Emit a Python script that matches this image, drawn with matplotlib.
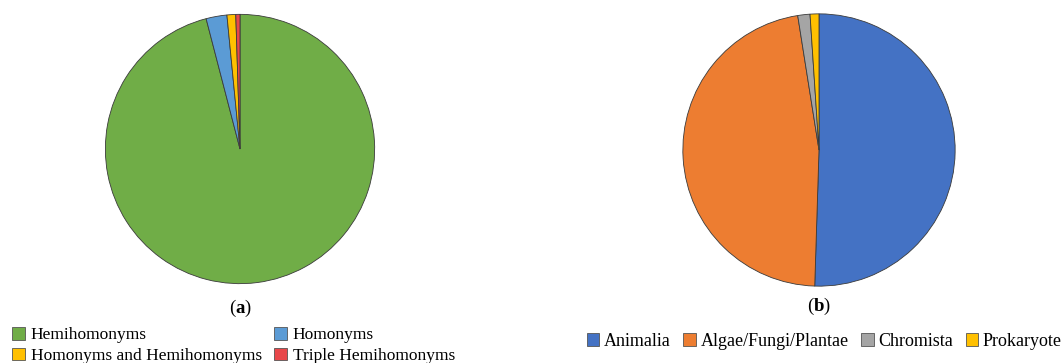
import matplotlib
matplotlib.use("Agg")
import matplotlib.pyplot as plt
from matplotlib.patches import Patch

# panel (a): type of homonymy, share in %
labels_a = ["Hemihomonyms", "Homonyms", "Homonyms and Hemihomonyms", "Triple Hemihomonyms"]
values_a = [96.0, 2.5, 1.05, 0.5]
colors_a = ["#70AD47", "#5B9BD5", "#FFC000", "#E8474A"]

# panel (b): kingdom, share in %
labels_b = ["Animalia", "Algae/Fungi/Plantae", "Chromista", "Prokaryote"]
values_b = [50.5, 47.0, 1.45, 1.05]
colors_b = ["#4472C4", "#ED7D31", "#A5A5A5", "#FFC000"]

W, H = 1064, 363
plt.rcParams["font.family"] = ["Liberation Serif", "DejaVu Serif"]
plt.rcParams["mathtext.fontset"] = "custom"
plt.rcParams["mathtext.rm"] = "Liberation Serif"
plt.rcParams["mathtext.bf"] = "Liberation Serif:bold"

fig = plt.figure(figsize=(W / 100, H / 100), dpi=100)

def pie_axes(cx, cy, r):
    # pixel centre/radius (top-left origin) -> figure axes
    return fig.add_axes([(cx - r) / W, (H - cy - r) / H, 2 * r / W, 2 * r / H])

def pie(ax, vals, cols):
    ax.pie(vals, colors=cols, startangle=90, counterclock=False, radius=1,
           wedgeprops=dict(edgecolor="#3a3a3a", linewidth=0.6))
    ax.set_xlim(-1.01, 1.01)
    ax.set_ylim(-1.01, 1.01)
    ax.set_aspect("equal")
    ax.axis("off")

ax1 = pie_axes(240, 149, 136)
pie(ax1, values_a, colors_a)
ax2 = pie_axes(819, 150, 137.5)
pie(ax2, values_b, colors_b)

fig.text(240 / W, 1 - 308 / H, r"($\mathbf{a}$)", ha="center", va="center", fontsize=13.5)
fig.text(819 / W, 1 - 306 / H, r"($\mathbf{b}$)", ha="center", va="center", fontsize=13.5)

# legend (a) is filled row by row in the reference, matplotlib fills by column
order = [0, 2, 1, 3]
h_a = [Patch(facecolor=colors_a[i], edgecolor="#555555", linewidth=0.6) for i in order]
fig.legend(h_a, [labels_a[i] for i in order], ncol=2, frameon=False, fontsize=12.5,
           loc="center left", bbox_to_anchor=(0 / W, 1 - 345.5 / H),
           handlelength=0.72, handleheight=0.72, handletextpad=0.35,
           columnspacing=0.7, labelspacing=0.24, borderpad=0.2)

h_b = [Patch(facecolor=c, edgecolor="#555555", linewidth=0.6) for c in colors_b]
fig.legend(h_b, labels_b, ncol=4, frameon=False, fontsize=13,
           loc="center left", bbox_to_anchor=(574 / W, 1 - 341 / H),
           handlelength=0.7, handleheight=0.7, handletextpad=0.25,
           columnspacing=0.7, borderpad=0.2)

fig.savefig("out.png", dpi=100, facecolor="white")
